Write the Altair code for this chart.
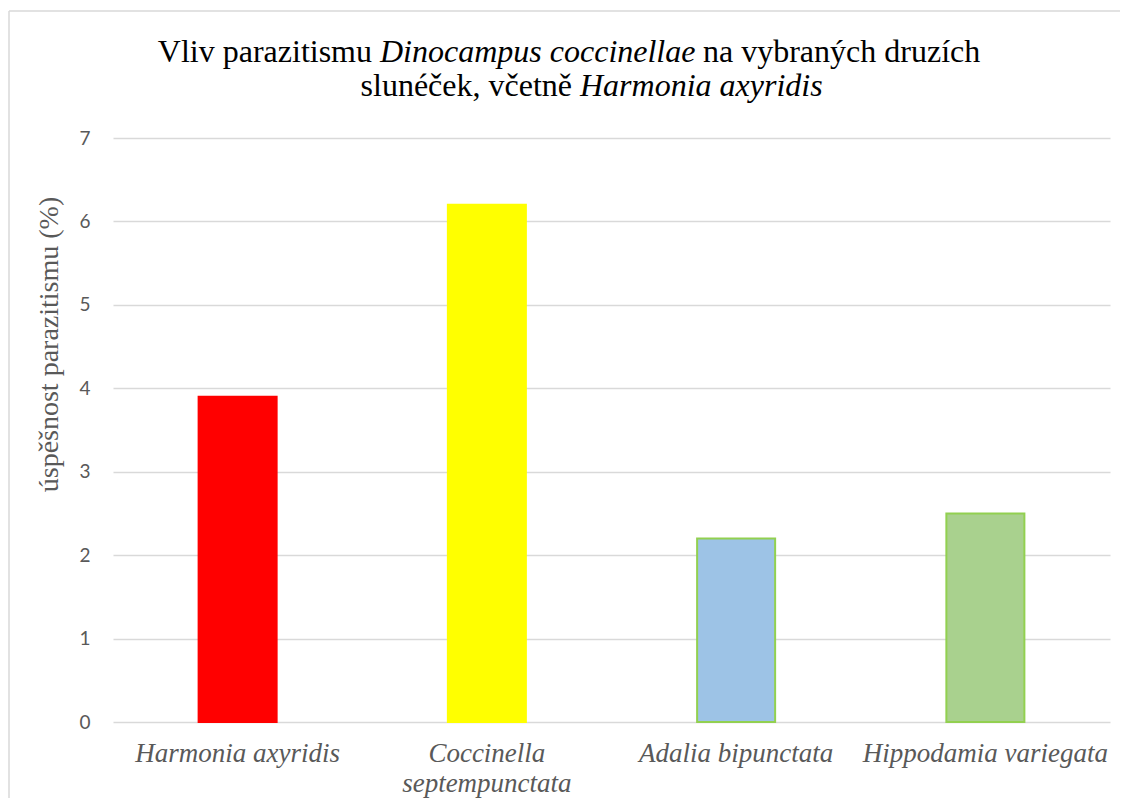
import altair as alt
import pandas as pd

species = ["Harmonia axyridis", "Coccinella septempunctata", "Adalia bipunctata", "Hippodamia variegata"]
labels = ["Harmonia axyridis", "Coccinella\nseptempunctata", "Adalia bipunctata", "Hippodamia variegata"]
values = [3.9, 6.2, 2.2, 2.5]
fills = ["#FF0000", "#FFFF00", "#9DC3E6", "#A9D18E"]
strokes = ["#FF0000", "#FFFF00", "#92D050", "#92D050"]
y_ticks = [0, 1, 2, 3, 4, 5, 6, 7]

title_line1 = ["Vliv parazitismu", "Dinocampus coccinellae", "na vybraných druzích"]
title_line2 = ["slunéček, včetně", "Harmonia axyridis"]
y_title = "úspěšnost parazitismu (%)"

df = pd.DataFrame({"species": species, "label": labels, "value": values})

W, H = 997, 584
GRID = "#d9d9d9"
GRAY = "#595959"
SERIF = "Liberation Serif"

xscale = alt.Scale(domain=species, paddingInner=0.687, paddingOuter=0.3435)

bars = alt.Chart(df).mark_bar(strokeWidth=2).encode(
    x=alt.X("species:N", sort=species, scale=xscale, axis=None),
    y=alt.Y(
        "value:Q",
        scale=alt.Scale(domain=[0, 7], nice=False),
        axis=alt.Axis(
            values=y_ticks,
            grid=True,
            gridColor=GRID,
            gridWidth=1.5,
            domain=False,
            ticks=False,
            labelFont="Lato",
            labelFontSize=19,
            labelColor=GRAY,
            labelPadding=23,
            title=y_title,
            titleFont=SERIF,
            titleFontSize=28,
            titleFontWeight="normal",
            titleColor=GRAY,
            titleAngle=270,
            titleAlign="center",
            titleBaseline="middle",
            titleX=-64,
            titleY=206,
        ),
    ),
    color=alt.Color("species:N", scale=alt.Scale(domain=species, range=fills), legend=None),
    stroke=alt.Stroke("species:N", scale=alt.Scale(domain=species, range=strokes), legend=None),
)

xlabels = alt.Chart(df).mark_text(
    font=SERIF, fontStyle="italic", fontSize=27, color=GRAY,
    lineBreak="\n", lineHeight=30, baseline="alphabetic", align="center",
).encode(
    x=alt.X("species:N", sort=species, scale=xscale),
    y=alt.value(H + 40),
    text="label:N",
)

def seg(text, x, y, align, italic):
    props = dict(font=SERIF, fontSize=32, color="#000000", align=align, baseline="alphabetic")
    if italic:
        props["fontStyle"] = "italic"
    return alt.Chart(pd.DataFrame({"t": [text]})).mark_text(**props).encode(
        x=alt.value(x), y=alt.value(y), text="t:N"
    )

t1a = seg(title_line1[0], 372 - 113, 62 - 138, "right", False)
t1b = seg(title_line1[1], 380 - 113, 62 - 138, "left", True)
t1c = seg(title_line1[2], 703 - 113, 62 - 138, "left", False)
t2a = seg(title_line2[0], 572 - 113, 96 - 138, "right", False)
t2b = seg(title_line2[1], 580 - 113, 96 - 138, "left", True)

one = pd.DataFrame({"a": [0]})
border_top = alt.Chart(one).mark_rule(color=GRID, strokeWidth=1.5).encode(
    x=alt.value(-104), x2=alt.value(W + 10), y=alt.value(11 - 138)
)
border_left = alt.Chart(one).mark_rule(color=GRID, strokeWidth=1.5).encode(
    x=alt.value(-104), y=alt.value(11 - 138), y2=alt.value(H + 80)
)

chart = alt.layer(border_top, border_left, bars, xlabels, t1a, t1b, t1c, t2a, t2b).properties(
    width=W,
    height=H,
    autosize=alt.AutoSizeParams(type="none"),
    padding={"left": 105, "top": 130, "right": 10, "bottom": 76},
).configure(background="#ffffff").configure_view(stroke=None)

chart.save("out.html", embed_options={"renderer": "svg", "actions": False})
